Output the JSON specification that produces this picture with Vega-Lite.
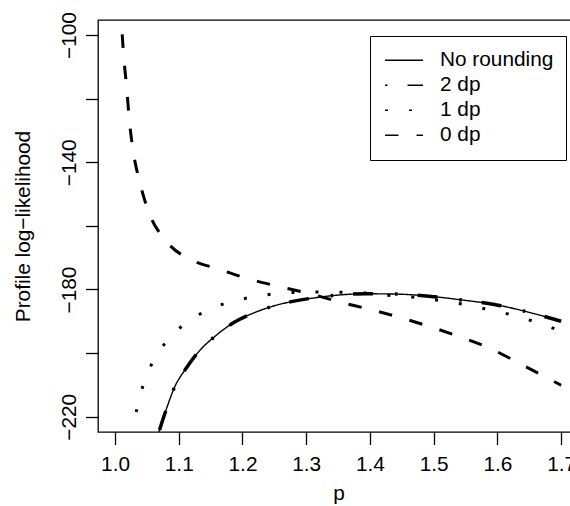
{
  "$schema": "https://vega.github.io/schema/vega-lite/v6.json",
  "width": 481,
  "height": 412,
  "autosize": "none",
  "padding": {"left": 98, "top": 20, "right": 0, "bottom": 74},
  "background": "white",
  "config": {
    "view": {"stroke": "black", "strokeWidth": 1.3},
    "font": "Liberation Sans",
    "axis": {
      "grid": false,
      "domain": false,
      "tickColor": "black",
      "tickWidth": 1.3,
      "tickSize": 12.5,
      "labelFont": "Liberation Sans",
      "labelFontSize": 20.8,
      "labelColor": "black",
      "labelFlush": false,
      "labelOverlap": false,
      "titleFont": "Liberation Sans",
      "titleFontSize": 20.8,
      "titleFontWeight": "normal",
      "titleColor": "black"
    }
  },
  "data": {
    "values": [
      {"series": "No rounding", "p": 1.060, "ll": -231.0},
      {"series": "No rounding", "p": 1.0706, "ll": -223.7},
      {"series": "No rounding", "p": 1.0837, "ll": -215.8},
      {"series": "No rounding", "p": 1.0915, "ll": -211.6},
      {"series": "No rounding", "p": 1.1125, "ll": -204.5},
      {"series": "No rounding", "p": 1.136, "ll": -198.5},
      {"series": "No rounding", "p": 1.157, "ll": -194.7},
      {"series": "No rounding", "p": 1.187, "ll": -190.3},
      {"series": "No rounding", "p": 1.2224, "ll": -187.0},
      {"series": "No rounding", "p": 1.2486, "ll": -185.2},
      {"series": "No rounding", "p": 1.2852, "ll": -183.5},
      {"series": "No rounding", "p": 1.3218, "ll": -182.4},
      {"series": "No rounding", "p": 1.3532, "ll": -181.7},
      {"series": "No rounding", "p": 1.3951, "ll": -181.35},
      {"series": "No rounding", "p": 1.4422, "ll": -181.45},
      {"series": "No rounding", "p": 1.4929, "ll": -182.1},
      {"series": "No rounding", "p": 1.5443, "ll": -183.3},
      {"series": "No rounding", "p": 1.5954, "ll": -184.7},
      {"series": "No rounding", "p": 1.6463, "ll": -187.0},
      {"series": "No rounding", "p": 1.70, "ll": -190.0},

      {"series": "2 dp", "p": 1.060, "ll": -231.0},
      {"series": "2 dp", "p": 1.0706, "ll": -223.7},
      {"series": "2 dp", "p": 1.0837, "ll": -215.8},
      {"series": "2 dp", "p": 1.0915, "ll": -211.6},
      {"series": "2 dp", "p": 1.1125, "ll": -204.5},
      {"series": "2 dp", "p": 1.136, "ll": -198.5},
      {"series": "2 dp", "p": 1.157, "ll": -194.7},
      {"series": "2 dp", "p": 1.187, "ll": -190.3},
      {"series": "2 dp", "p": 1.2224, "ll": -187.0},
      {"series": "2 dp", "p": 1.2486, "ll": -185.2},
      {"series": "2 dp", "p": 1.2852, "ll": -183.5},
      {"series": "2 dp", "p": 1.3218, "ll": -182.4},
      {"series": "2 dp", "p": 1.3532, "ll": -181.7},
      {"series": "2 dp", "p": 1.3951, "ll": -181.35},
      {"series": "2 dp", "p": 1.4422, "ll": -181.45},
      {"series": "2 dp", "p": 1.4929, "ll": -182.1},
      {"series": "2 dp", "p": 1.5443, "ll": -183.3},
      {"series": "2 dp", "p": 1.5954, "ll": -184.7},
      {"series": "2 dp", "p": 1.6463, "ll": -187.0},
      {"series": "2 dp", "p": 1.70, "ll": -190.0},

      {"series": "1 dp", "p": 1.027, "ll": -226.0},
      {"series": "1 dp", "p": 1.0341, "ll": -217.7},
      {"series": "1 dp", "p": 1.0435, "ll": -210.5},
      {"series": "1 dp", "p": 1.0581, "ll": -203.2},
      {"series": "1 dp", "p": 1.0785, "ll": -196.9},
      {"series": "1 dp", "p": 1.1052, "ll": -191.5},
      {"series": "1 dp", "p": 1.1371, "ll": -187.3},
      {"series": "1 dp", "p": 1.1722, "ll": -184.4},
      {"series": "1 dp", "p": 1.2093, "ll": -182.6},
      {"series": "1 dp", "p": 1.2465, "ll": -181.45},
      {"series": "1 dp", "p": 1.2846, "ll": -180.9},
      {"series": "1 dp", "p": 1.3218, "ll": -180.8},
      {"series": "1 dp", "p": 1.3611, "ll": -180.9},
      {"series": "1 dp", "p": 1.3992, "ll": -181.2},
      {"series": "1 dp", "p": 1.4369, "ll": -182.0},
      {"series": "1 dp", "p": 1.4746, "ll": -182.5},
      {"series": "1 dp", "p": 1.5129, "ll": -183.55},
      {"series": "1 dp", "p": 1.5499, "ll": -184.8},
      {"series": "1 dp", "p": 1.5876, "ll": -186.4},
      {"series": "1 dp", "p": 1.6248, "ll": -188.1},
      {"series": "1 dp", "p": 1.6609, "ll": -190.3},
      {"series": "1 dp", "p": 1.70, "ll": -193.1},

      {"series": "0 dp", "p": 1.007, "ll": -80.0},
      {"series": "0 dp", "p": 1.0105, "ll": -97.1},
      {"series": "0 dp", "p": 1.0137, "ll": -106.8},
      {"series": "0 dp", "p": 1.0184, "ll": -116.8},
      {"series": "0 dp", "p": 1.0224, "ll": -126.7},
      {"series": "0 dp", "p": 1.0287, "ll": -136.7},
      {"series": "0 dp", "p": 1.0392, "ll": -146.6},
      {"series": "0 dp", "p": 1.0538, "ll": -156.1},
      {"series": "0 dp", "p": 1.080, "ll": -164.7},
      {"series": "0 dp", "p": 1.1204, "ll": -170.75},
      {"series": "0 dp", "p": 1.1597, "ll": -173.4},
      {"series": "0 dp", "p": 1.2068, "ll": -176.5},
      {"series": "0 dp", "p": 1.2538, "ll": -178.9},
      {"series": "0 dp", "p": 1.3035, "ll": -181.2},
      {"series": "0 dp", "p": 1.352, "ll": -183.9},
      {"series": "0 dp", "p": 1.4003, "ll": -186.3},
      {"series": "0 dp", "p": 1.449, "ll": -188.9},
      {"series": "0 dp", "p": 1.4972, "ll": -191.9},
      {"series": "0 dp", "p": 1.5443, "ll": -195.1},
      {"series": "0 dp", "p": 1.5914, "ll": -198.8},
      {"series": "0 dp", "p": 1.6369, "ll": -203.5},
      {"series": "0 dp", "p": 1.70, "ll": -210.1}
    ]
  },
  "mark": {"type": "line", "clip": true, "interpolate": "monotone", "stroke": "black", "strokeCap": "butt"},
  "encoding": {
    "x": {
      "field": "p",
      "type": "quantitative",
      "scale": {"domain": [0.9733, 1.728], "nice": false, "zero": false},
      "axis": {
        "values": [1.0, 1.1, 1.2, 1.3, 1.4, 1.5, 1.6, 1.7],
        "format": ".1f",
        "labelPadding": 10.2,
        "labelBaseline": "top",
        "labelAlign": "center",
        "title": "p",
        "titleX": 240.5,
        "titleY": 67,
        "titleBaseline": "alphabetic",
        "titleAlign": "center"
      }
    },
    "y": {
      "field": "ll",
      "type": "quantitative",
      "scale": {"domain": [-224.8, -95.28], "nice": false, "zero": false},
      "axis": {
        "values": [-220, -200, -180, -160, -140, -120, -100],
        "labelExpr": "datum.value % 40 == 0 ? '' : datum.label",
        "labelAngle": -90,
        "labelAlign": "center",
        "labelBaseline": "alphabetic",
        "labelPadding": 10.3,
        "title": "Profile log−likelihood",
        "titleAngle": -90,
        "titleX": -69,
        "titleY": 206,
        "titleBaseline": "alphabetic",
        "titleAlign": "center"
      }
    },
    "strokeDash": {
      "field": "series",
      "type": "nominal",
      "scale": {
        "domain": ["No rounding", "2 dp", "1 dp", "0 dp"],
        "range": [[1, 0], [2.5, 20, 20, 22], [3, 21], [13.5, 18]]
      },
      "legend": {
        "title": null,
        "orient": "none",
        "legendX": 272,
        "legendY": 16,
        "direction": "vertical",
        "padding": 12,
        "strokeColor": "black",
        "fillColor": "white",
        "cornerRadius": 0,
        "symbolType": "stroke",
        "symbolSize": 1444,
        "symbolStrokeColor": "black",
        "symbolOffset": 2,
        "clipHeight": 24.5,
        "rowPadding": 0,
        "labelFont": "Liberation Sans",
        "labelFontSize": 20.8,
        "labelColor": "black",
        "labelOffset": 16,
        "labelLimit": 300,
        "encoding": {
          "symbols": {
            "update": {
              "strokeWidth": {"signal": "datum.value === 'No rounding' ? 1.4 : datum.value === '2 dp' ? 3.5 : 3"}
            }
          }
        }
      }
    },
    "strokeWidth": {
      "condition": [
        {"test": "datum.series === 'No rounding'", "value": 1.4},
        {"test": "datum.series === '2 dp'", "value": 3.5}
      ],
      "value": 3
    }
  }
}
